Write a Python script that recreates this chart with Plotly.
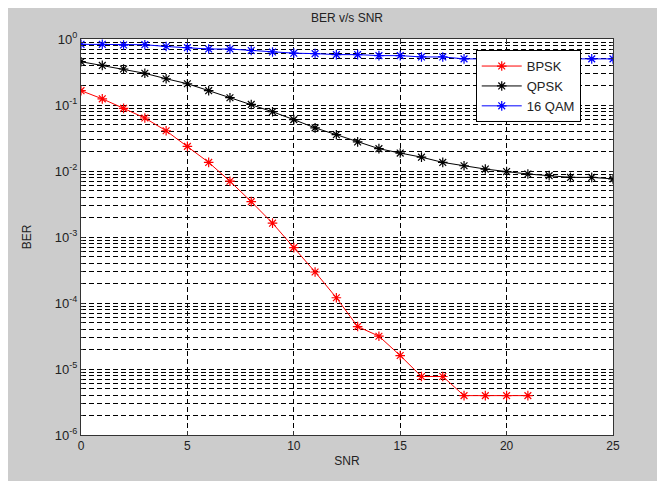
import plotly.graph_objects as go

snr = list(range(0, 26))
snr_bpsk = list(range(0, 22))

ber_bpsk = [0.165, 0.124, 0.089, 0.0635, 0.0407, 0.0236, 0.0135, 0.0070, 0.00343,
            0.00162, 0.00069, 2.95e-4, 1.2e-4, 4.4e-5, 3.14e-5, 1.6e-5, 7.7e-6,
            7.7e-6, 3.95e-6, 3.95e-6, 3.95e-6, 3.95e-6]
ber_qpsk = [0.453, 0.398, 0.351, 0.302, 0.25, 0.21, 0.165, 0.129, 0.102, 0.079,
            0.06, 0.045, 0.0355, 0.0276, 0.0218, 0.0187, 0.0162, 0.0135, 0.012,
            0.0107, 0.0098, 0.009, 0.0085, 0.008, 0.008, 0.0076]
ber_16qam = [0.83, 0.83, 0.81, 0.82, 0.77, 0.74, 0.705, 0.705, 0.67, 0.635,
             0.61, 0.60, 0.58, 0.58, 0.56, 0.56, 0.535, 0.535, 0.50, 0.50,
             0.50, 0.50, 0.50, 0.50, 0.50, 0.50]

y_tickvals = [1e-6, 1e-5, 1e-4, 1e-3, 1e-2, 1e-1, 1]
y_ticktext = ["10<sup>-6</sup>", "10<sup>-5</sup>", "10<sup>-4</sup>", "10<sup>-3</sup>",
              "10<sup>-2</sup>", "10<sup>-1</sup>", "10<sup>0</sup>"]
x_tickvals = [0, 5, 10, 15, 20, 25]

font = "Liberation Sans, Arial, sans-serif"
W, H = 657, 473
L, R, T, B = 73, 52, 31, 46
dash = "5px,3px"
fig = go.Figure()
series = [("BPSK", snr_bpsk, ber_bpsk, "#ff0000"),
          ("QPSK", snr, ber_qpsk, "#000000"),
          ("16 QAM", snr, ber_16qam, "#0000ff")]
for name, xs, ys, c in series:
    fig.add_trace(go.Scatter(
        x=xs, y=ys, name=name, mode="lines+markers",
        line=dict(color=c, width=1),
        marker=dict(symbol="asterisk-open", size=8, color=c,
                    line=dict(color=c, width=1.2)),
    ))

fig.update_layout(
    width=W, height=H,
    paper_bgcolor="#cccccc", plot_bgcolor="white",
    margin=dict(l=L, r=R, t=T, b=B),
    font=dict(family=font, size=12, color="#222"),
    title=dict(text="BER v/s SNR", x=(L + (W - L - R) / 2) / W, xanchor="center",
               y=1 - 10 / H, yanchor="middle", font=dict(size=12, color="#222")),
    showlegend=True,
    legend=dict(x=0.742, y=0.972, xanchor="left", yanchor="top",
                bgcolor="white", bordercolor="black", borderwidth=1,
                font=dict(size=13, color="#222"), itemwidth=40,
                tracegroupgap=2),
)
fig.update_xaxes(
    range=[0, 25], tickvals=x_tickvals, showgrid=True,
    gridcolor="black", griddash=dash, gridwidth=1,
    showline=True, linecolor="#333", linewidth=1, mirror="ticks",
    ticks="inside", ticklen=4, tickcolor="#333", zeroline=False,
    title=dict(text="SNR", standoff=4, font=dict(size=12)),
    tickfont=dict(size=12), automargin=False,
)
fig.update_yaxes(
    type="log", range=[-6, 0], tickvals=y_tickvals, ticktext=y_ticktext,
    showgrid=True, gridcolor="black", griddash=dash, gridwidth=1,
    minor=dict(showgrid=True, dtick="D1", gridcolor="black", griddash=dash,
               gridwidth=1, ticks="inside", ticklen=2, tickcolor="#333"),
    showline=True, linecolor="#333", linewidth=1, mirror="ticks",
    ticks="inside", ticklen=4, tickcolor="#333", zeroline=False,
    title=dict(text="BER", standoff=20, font=dict(size=12)),
    tickfont=dict(size=13), automargin=False,
)
fig.write_html("out.html")
